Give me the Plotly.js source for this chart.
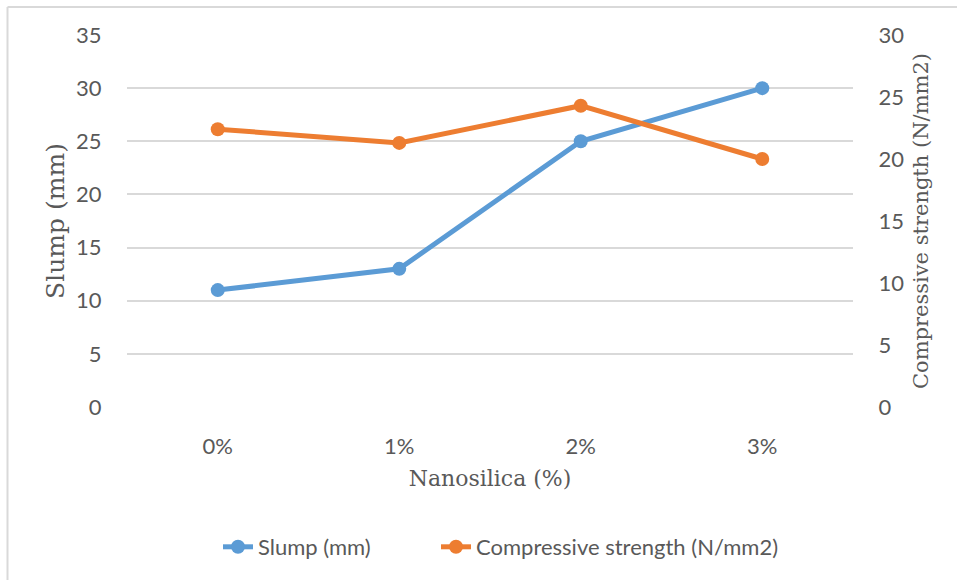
<!DOCTYPE html>
<html>
<head>
<meta charset="utf-8">
<script src="https://cdn.plot.ly/plotly-3.0.1.min.js"></script>
<style>html,body{margin:0;padding:0;background:#fff;}#chart{width:957px;height:580px;}</style>
</head>
<body>
<div id="chart"></div>
<script>
const categories = ['0%', '1%', '2%', '3%'];
const slump = [11, 13, 25, 30];
const strength = [22.4, 21.3, 24.3, 20.0];
const leftTicks = [0, 5, 10, 15, 20, 25, 30, 35];
const rightTicks = [0, 5, 10, 15, 20, 25, 30];

const tickFont = {family: 'Lato, "Open Sans", sans-serif', size: 22, color: '#595959'};
const serif = '"DejaVu Serif", "Liberation Serif", serif';

const traces = [
  {x: categories, y: slump, name: 'Slump (mm)', type: 'scatter', mode: 'lines+markers', legend: 'legend',
   line: {color: '#5b9bd5', width: 5}, marker: {color: '#5b9bd5', size: 14}, yaxis: 'y'},
  {x: categories, y: strength, name: 'Compressive strength (N/mm2)', type: 'scatter', mode: 'lines+markers', legend: 'legend2',
   line: {color: '#ed7d31', width: 5}, marker: {color: '#ed7d31', size: 14}, yaxis: 'y2'}
];

const pw = 957 - 127 - 104, ph = 580 - 35 - 173;
const px = v => (v - 127) / pw, py = v => (580 - 173 - v) / ph;

const layout = {
  width: 957, height: 580,
  margin: {l: 127, r: 104, t: 35, b: 173},
  paper_bgcolor: '#fff', plot_bgcolor: '#fff',
  showlegend: true,
  legend: {orientation: 'h', x: px(218), xanchor: 'left', y: py(547), yanchor: 'middle', font: tickFont},
  legend2: {orientation: 'h', x: px(436), xanchor: 'left', y: py(547), yanchor: 'middle', font: tickFont},
  xaxis: {type: 'category', categoryorder: 'array', categoryarray: categories, range: [-0.5, 3.5],
          showgrid: false, zeroline: false, showline: false,
          ticks: 'outside', ticklen: 20, tickcolor: 'rgba(0,0,0,0)', tickfont: tickFont,
          title: {text: 'Nanosilica (%)', font: {family: serif, size: 22, color: '#595959'}, standoff: 12}},
  yaxis: {range: [0, 35], tickvals: leftTicks, showgrid: true, gridcolor: '#d9d9d9', gridwidth: 2,
          zeroline: false, showline: false, ticks: 'outside', ticklen: 20, tickcolor: 'rgba(0,0,0,0)',
          tickfont: tickFont, title: {text: 'Slump (mm)', font: {family: serif, size: 25, color: '#595959'}, standoff: 4}},
  yaxis2: {range: [0, 30], tickvals: rightTicks, overlaying: 'y', side: 'right', showgrid: false,
           zeroline: false, showline: false, ticks: 'outside', ticklen: 20, tickcolor: 'rgba(0,0,0,0)',
           tickfont: tickFont, title: {text: 'Compressive strength (N/mm2)', font: {family: serif, size: 21, color: '#595959'}, standoff: 10}}
};
layout.shapes = [
  {type: 'line', xref: 'paper', yref: 'paper', x0: px(7.5), x1: px(960), y0: py(7), y1: py(7), line: {color: '#d9d9d9', width: 2}},
  {type: 'line', xref: 'paper', yref: 'paper', x0: px(7.5), x1: px(7.5), y0: py(7), y1: py(582), line: {color: '#d9d9d9', width: 2}}
];
Plotly.newPlot('chart', traces, layout, {displayModeBar: false, staticPlot: true});
</script>
</body>
</html>
